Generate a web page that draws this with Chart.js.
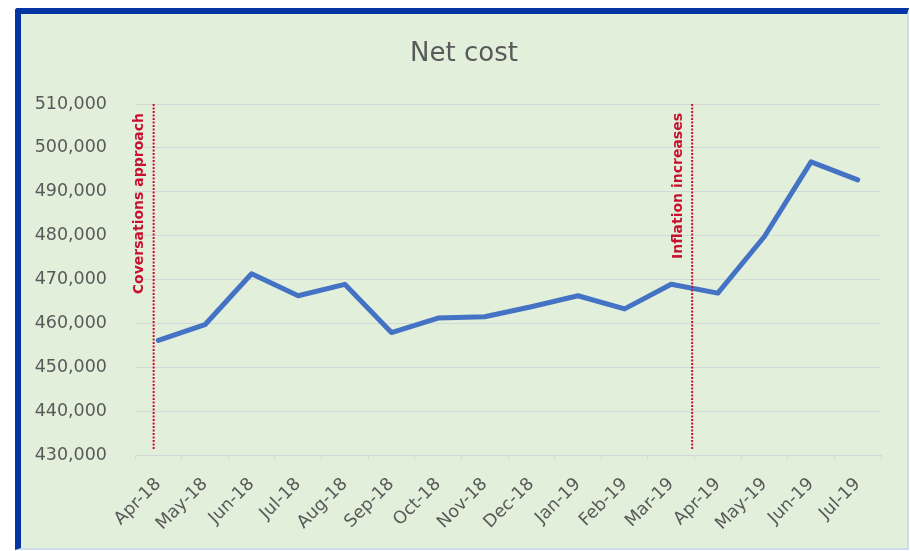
<!DOCTYPE html>
<html>
<head>
<meta charset="utf-8">
<title>Net cost</title>
<script src="https://cdn.jsdelivr.net/npm/chart.js@4"></script>
<style>
  html, body { margin: 0; padding: 0; background: #fff; }
  .frame {
    position: absolute;
    left: 15px; top: 8px;
    width: 886px; height: 534px;
    background: #e2efda;
    border-top: 6px solid #0535a5;
    border-left: 6px solid #0535a5;
    border-right: 2px solid #cfdde8;
    border-bottom: 2px solid #cfdde8;
    border-top-left-radius: 3px;
  }
  #chart { position: absolute; left: 0; top: 0; }
</style>
</head>
<body>
<div class="frame"></div>
<canvas id="chart" width="910" height="551"></canvas>
<script>
const chartTitle = "Net cost";
const months = ["Apr-18", "May-18", "Jun-18", "Jul-18", "Aug-18", "Sep-18", "Oct-18", "Nov-18",
  "Dec-18", "Jan-19", "Feb-19", "Mar-19", "Apr-19", "May-19", "Jun-19", "Jul-19"];
const netCost = [456100, 459700, 471300, 466300, 468900, 457900, 461200, 461500,
  463800, 466300, 463300, 468900, 466900, 479800, 496800, 492700];

// event markers, positioned in category units
const markerAt = [-0.1, 11.45];
const markerText = ["Coversations approach", "Inflation increases"];

const yMin = 430000;
const yMax = 510000;
const yStep = 10000;

const grey = "#595959";
const gridColor = "#d3d9d9";

// title is centred on the whole panel, not on the plot area
const panelTitle = {
  id: "panelTitle",
  afterDraw(chart) {
    const { ctx } = chart;
    ctx.save();
    ctx.fillStyle = grey;
    ctx.font = "26px 'DejaVu Sans'";
    ctx.textAlign = "center";
    ctx.textBaseline = "middle";
    ctx.fillText(chartTitle, 464, 54);
    ctx.restore();
  }
};

const markers = {
  id: "markers",
  afterDatasetsDraw(chart) {
    const { ctx, scales: { x, y } } = chart;
    ctx.save();
    markerAt.forEach((pos, i) => {
      const px = x.getPixelForValue(pos);
      const top = y.getPixelForValue(yMax);
      const bottom = y.getPixelForValue(431000);
      ctx.strokeStyle = "#c8102e";
      ctx.lineWidth = 2;
      ctx.setLineDash([2, 1.5]);
      ctx.beginPath();
      ctx.moveTo(px, top);
      ctx.lineTo(px, bottom);
      ctx.stroke();

      ctx.setLineDash([]);
      ctx.save();
      ctx.translate(px - 14, top + 9);
      ctx.rotate(-Math.PI / 2);
      ctx.fillStyle = "#c8102e";
      ctx.font = "bold 14px 'DejaVu Sans'";
      ctx.textAlign = "right";
      ctx.textBaseline = "middle";
      ctx.fillText(markerText[i], 0, 0);
      ctx.restore();
    });
    ctx.restore();
  }
};

new Chart(document.getElementById("chart"), {
  type: "line",
  data: {
    labels: months,
    datasets: [{
      label: "Net cost",
      data: netCost,
      borderColor: "#4472c4",
      borderWidth: 5,
      borderCapStyle: "round",
      borderJoinStyle: "round",
      pointRadius: 0,
      tension: 0,
      fill: false
    }]
  },
  options: {
    responsive: false,
    animation: false,
    layout: { padding: { left: 0, right: 29, top: 104, bottom: 0 } },
    plugins: {
      legend: { display: false },
      tooltip: { enabled: false },
      title: { display: false }
    },
    scales: {
      x: {
        offset: true,
        grid: {
          offset: true,
          drawOnChartArea: false,
          drawTicks: true,
          tickLength: 5,
          color: gridColor
        },
        border: { color: gridColor, width: 1 },
        ticks: {
          color: grey,
          font: { family: "'DejaVu Sans'", size: 17.5 },
          minRotation: 45,
          maxRotation: 45,
          padding: 14
        },
        afterFit(scale) { scale.height = 96; }
      },
      y: {
        min: yMin,
        max: yMax,
        grid: { color: gridColor, drawTicks: false },
        border: { display: false },
        ticks: {
          stepSize: yStep,
          color: grey,
          padding: 28,
          font: { family: "'DejaVu Sans'", size: 17.5 },
          callback: (v) => v.toLocaleString("en-US")
        },
        afterFit(scale) { scale.width = 135; }
      }
    }
  },
  plugins: [markers, panelTitle]
});
</script>
</body>
</html>
